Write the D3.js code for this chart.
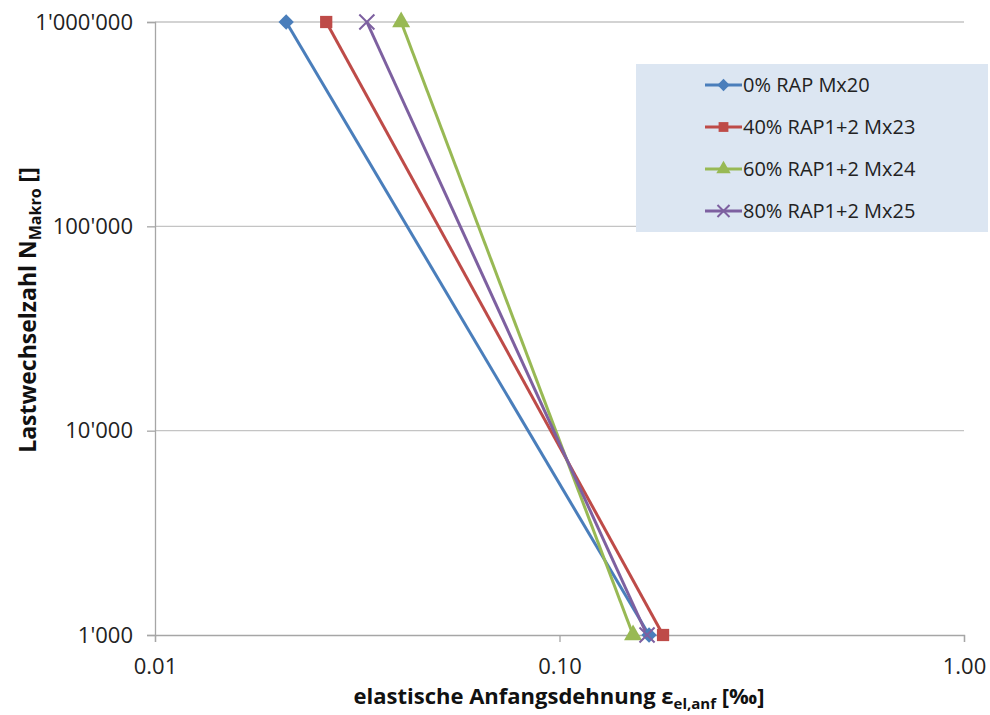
<!DOCTYPE html>
<html>
<head>
<meta charset="utf-8">
<script src="https://cdn.jsdelivr.net/npm/d3@7"></script>
<style>
  body { margin: 0; background: #fff; }
  svg { font-family: "Open Sans", "Noto Sans", sans-serif; }
</style>
</head>
<body>
<div id="chart"></div>
<script>
// Data (strain in ‰, load cycles)
const seriesNames = ["0% RAP Mx20", "40% RAP1+2 Mx23", "60% RAP1+2 Mx24", "80% RAP1+2 Mx25"];
const seriesColors = ["#4a7ebb", "#be4b48", "#98b954", "#7d60a0"];
const seriesMarkers = ["diamond", "square", "triangle", "cross"];
const cycles = [1000000, 1000];
const strain0 = [0.0211, 0.1665];
const strain40 = [0.0265, 0.1803];
const strain60 = [0.0406, 0.152];
const strain80 = [0.0334, 0.1646];
const xTicks = [0.01, 0.1, 1];
const yTicks = [1000, 10000, 100000, 1000000];

const width = 990, height = 715;
const margin = { left: 155, right: 26, top: 22, bottom: 80 };

const svg = d3.select("#chart").append("svg")
  .attr("width", width).attr("height", height);

const x = d3.scaleLog().domain([0.01, 1]).range([margin.left, width - margin.right]);
const y = d3.scaleLog().domain([1000, 1000000]).range([height - margin.bottom, margin.top]);

const fmtY = (v) => d3.format(",")(v).replace(/,/g, "'");

// gridlines
svg.append("g").selectAll("line").data(yTicks.slice(1)).join("line")
  .attr("x1", x(0.01)).attr("x2", x(1))
  .attr("y1", (d) => y(d)).attr("y2", (d) => y(d))
  .attr("stroke", "#c4c4c4").attr("stroke-width", 1.3);

// axes
const xAxis = svg.append("g")
  .attr("transform", `translate(0,${y(1000)})`)
  .call(d3.axisBottom(x).tickValues(xTicks).tickFormat(d3.format(".2f")).tickSize(7).tickPadding(16));
const yAxis = svg.append("g")
  .attr("transform", `translate(${x(0.01)},0)`)
  .call(d3.axisLeft(y).tickValues(yTicks).tickFormat(fmtY).tickSize(8).tickPadding(14));
[xAxis, yAxis].forEach((g) => {
  g.attr("font-size", 22).attr("font-family", "Open Sans, sans-serif");
  g.select(".domain").attr("stroke", "#a6a6a6").attr("stroke-width", 1.3);
  g.selectAll(".tick line").attr("stroke", "#a6a6a6").attr("stroke-width", 1.3);
  g.selectAll(".tick text").attr("fill", "#222");
});

// series
const allSeries = [strain0, strain40, strain60, strain80].map((vals, i) => ({
  name: seriesNames[i], color: seriesColors[i], marker: seriesMarkers[i],
  points: vals.map((v, j) => ({ x: v, y: cycles[j] }))
}));

const line = d3.line().x((d) => x(d.x)).y((d) => y(d.y));

const symbolOf = {
  diamond: d3.symbol().type(d3.symbolDiamond2 || d3.symbolDiamond).size(150),
  square: d3.symbol().type(d3.symbolSquare).size(150),
  triangle: d3.symbol().type(d3.symbolTriangle).size(140),
  cross: d3.symbol().type(d3.symbolX).size(150)
};

function drawMarker(g, type, color, cx, cy, scale) {
  const isCross = type === "cross";
  g.append("path")
    .attr("d", symbolOf[type]())
    .attr("transform", `translate(${cx},${cy}) scale(${scale})`)
    .attr("fill", isCross ? "none" : color)
    .attr("stroke", color)
    .attr("stroke-width", isCross ? 2 / scale : 0);
}

const gSeries = svg.append("g");
allSeries.forEach((s) => {
  gSeries.append("path")
    .attr("d", line(s.points))
    .attr("fill", "none")
    .attr("stroke", s.color)
    .attr("stroke-width", 3);
});
allSeries.forEach((s) => {
  s.points.forEach((p) => drawMarker(gSeries, s.marker, s.color, x(p.x), y(p.y), 1));
});

// legend
const legend = svg.append("g").attr("transform", "translate(636,64)");
legend.append("rect").attr("width", 352).attr("height", 168).attr("fill", "#dce6f2");
allSeries.forEach((s, i) => {
  const ly = 21 + i * 42;
  legend.append("line").attr("x1", 69).attr("x2", 106).attr("y1", ly).attr("y2", ly)
    .attr("stroke", s.color).attr("stroke-width", 3);
  drawMarker(legend, s.marker, s.color, 87.5, ly, 0.8);
  legend.append("text").attr("x", 107).attr("y", ly).attr("dy", "0.35em")
    .attr("font-size", 20).attr("fill", "#222").text(s.name);
});

// axis titles
const xt = svg.append("text")
  .attr("x", 559).attr("y", 704)
  .attr("text-anchor", "middle").attr("font-size", 22).attr("font-weight", "bold").attr("fill", "#111");
xt.append("tspan").text("elastische Anfangsdehnung ε");
xt.append("tspan").attr("font-size", 15).attr("dy", 5).text("el,anf");
xt.append("tspan").attr("dy", -5).text(" [‰]");

const yt = svg.append("text")
  .attr("transform", "translate(36,310) rotate(-90)")
  .attr("text-anchor", "middle").attr("font-size", 23).attr("font-weight", "bold").attr("fill", "#111");
yt.append("tspan").text("Lastwechselzahl N");
yt.append("tspan").attr("font-size", 16).attr("dy", 5).text("Makro");
yt.append("tspan").attr("dy", -5).text(" []");
</script>
</body>
</html>
